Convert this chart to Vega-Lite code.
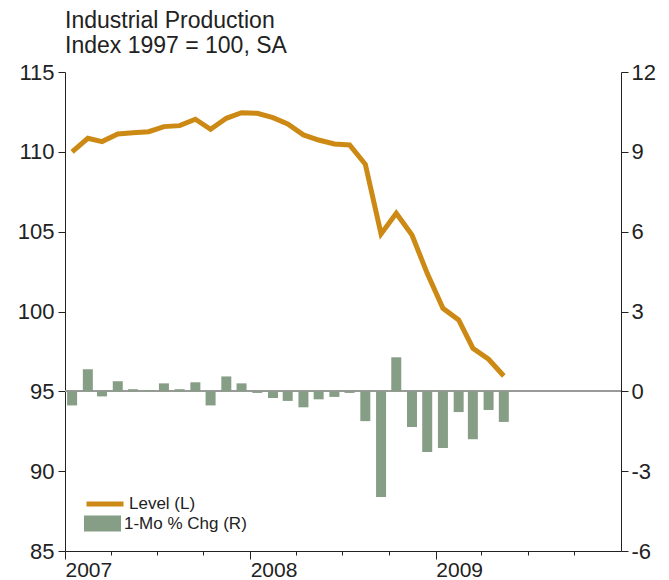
{
  "$schema": "https://vega.github.io/schema/vega-lite/v6.json",
  "autosize": {"type": "none"},
  "padding": {"left": 65, "top": 72, "right": 48, "bottom": 29},
  "width": 556,
  "height": 479,
  "background": "white",
  "config": {
    "view": {"stroke": null},
    "font": "Liberation Sans",
    "axis": {"grid": false, "title": null, "domainColor": "#222", "tickColor": "#222", "labelColor": "#222", "domainWidth": 1, "tickWidth": 1}
  },
  "title": {
    "text": ["Industrial Production", "Index 1997 = 100, SA"],
    "anchor": "start",
    "frame": "group",
    "fontSize": 23,
    "fontWeight": "normal",
    "color": "#222",
    "lineHeight": 25,
    "offset": 3
  },
  "data": {
    "values": [
      {"date": "2007-01-15", "level": 110.0, "chg": -0.53},
      {"date": "2007-02-15", "level": 110.85, "chg": 0.83},
      {"date": "2007-03-15", "level": 110.64, "chg": -0.19},
      {"date": "2007-04-15", "level": 111.12, "chg": 0.38},
      {"date": "2007-05-15", "level": 111.2, "chg": 0.08},
      {"date": "2007-06-15", "level": 111.26, "chg": 0.04},
      {"date": "2007-07-15", "level": 111.58, "chg": 0.3},
      {"date": "2007-08-15", "level": 111.64, "chg": 0.08},
      {"date": "2007-09-15", "level": 112.04, "chg": 0.34},
      {"date": "2007-10-15", "level": 111.41, "chg": -0.53},
      {"date": "2007-11-15", "level": 112.1, "chg": 0.56},
      {"date": "2007-12-15", "level": 112.45, "chg": 0.3},
      {"date": "2008-01-15", "level": 112.41, "chg": -0.06},
      {"date": "2008-02-15", "level": 112.14, "chg": -0.25},
      {"date": "2008-03-15", "level": 111.74, "chg": -0.36},
      {"date": "2008-04-15", "level": 111.06, "chg": -0.6},
      {"date": "2008-05-15", "level": 110.74, "chg": -0.3},
      {"date": "2008-06-15", "level": 110.49, "chg": -0.21},
      {"date": "2008-07-15", "level": 110.43, "chg": -0.06},
      {"date": "2008-08-15", "level": 109.22, "chg": -1.12},
      {"date": "2008-09-15", "level": 104.86, "chg": -3.97},
      {"date": "2008-10-15", "level": 106.15, "chg": 1.28},
      {"date": "2008-11-15", "level": 104.79, "chg": -1.34},
      {"date": "2008-12-15", "level": 102.39, "chg": -2.28},
      {"date": "2009-01-15", "level": 100.2, "chg": -2.13},
      {"date": "2009-02-15", "level": 99.47, "chg": -0.78},
      {"date": "2009-03-15", "level": 97.7, "chg": -1.8},
      {"date": "2009-04-15", "level": 97.01, "chg": -0.7},
      {"date": "2009-05-15", "level": 95.96, "chg": -1.15}
    ]
  },
  "layer": [
    {
      "layer": [
        {
          "mark": {"type": "rule", "color": "#999999", "strokeWidth": 1.5},
          "encoding": {"y": {"datum": 0, "type": "quantitative"}}
        },
        {
          "mark": {"type": "bar", "size": 10},
          "encoding": {
            "x": {
              "field": "date", "type": "temporal",
              "scale": {"domain": [{"year": 2007, "month": 1, "date": 1, "utc": true}, {"year": 2010, "month": 1, "date": 1, "utc": true}], "nice": false, "padding": 0},
              "axis": {
                "values": [
                  {"year": 2007, "month": 4, "date": 1, "utc": true},
                  {"year": 2007, "month": 7, "date": 1, "utc": true},
                  {"year": 2007, "month": 10, "date": 1, "utc": true},
                  {"year": 2008, "month": 4, "date": 1, "utc": true},
                  {"year": 2008, "month": 7, "date": 1, "utc": true},
                  {"year": 2008, "month": 10, "date": 1, "utc": true},
                  {"year": 2009, "month": 4, "date": 1, "utc": true},
                  {"year": 2009, "month": 7, "date": 1, "utc": true},
                  {"year": 2009, "month": 10, "date": 1, "utc": true}
                ],
                "labels": false, "domain": false, "tickSize": 4, "orient": "bottom"
              }
            },
            "y": {
              "field": "chg", "type": "quantitative",
              "scale": {"domain": [-6, 12], "nice": false, "zero": false},
              "axis": {"orient": "right", "values": [-6, -3, 0, 3, 6, 9, 12], "tickSize": 7, "labelFontSize": 22, "labelPadding": 3,
                "labelExpr": "datum.value < 0 ? '-' + abs(datum.value) : '' + datum.value"}
            },
            "color": {
              "datum": "1-Mo % Chg (R)",
              "scale": {"range": ["#879E86"]},
              "legend": {
                "orient": "none", "legendX": 19, "legendY": 433, "title": null, "padding": 0,
                "symbolType": "M-1,-0.43H1V0.43H-1Z", "symbolSize": 1369, "symbolStrokeWidth": 0,
                "labelFontSize": 17, "labelColor": "#222", "labelOffset": 3
              }
            }
          }
        }
      ]
    },
    {
      "mark": {"type": "line", "strokeWidth": 5},
      "encoding": {
        "x": {
          "field": "date", "type": "temporal",
          "axis": {
            "values": [
              {"year": 2007, "month": 1, "date": 1, "utc": true},
              {"year": 2008, "month": 1, "date": 1, "utc": true},
              {"year": 2009, "month": 1, "date": 1, "utc": true}
            ],
            "format": "%Y", "formatType": "utc", "tickSize": 8, "labelAlign": "left", "labelFlush": false,
            "labelFontSize": 21, "labelBaseline": "alphabetic", "labelPadding": 17, "orient": "bottom"
          }
        },
        "y": {
          "field": "level", "type": "quantitative",
          "scale": {"domain": [85, 115], "nice": false, "zero": false},
          "axis": {"orient": "left", "values": [85, 90, 95, 100, 105, 110, 115], "tickSize": 7, "labelFontSize": 22, "labelPadding": 4}
        },
        "color": {
          "datum": "Level (L)",
          "scale": {"range": ["#CC8A14"]},
          "legend": {
            "orient": "none", "legendX": 19, "legendY": 411, "title": null, "padding": 0,
            "symbolType": "stroke", "symbolSize": 1369, "symbolStrokeWidth": 5,
            "labelFontSize": 17, "labelColor": "#222", "labelOffset": 3
          }
        }
      }
    }
  ],
  "resolve": {"scale": {"y": "independent", "color": "independent"}, "axis": {"x": "independent"}}
}
